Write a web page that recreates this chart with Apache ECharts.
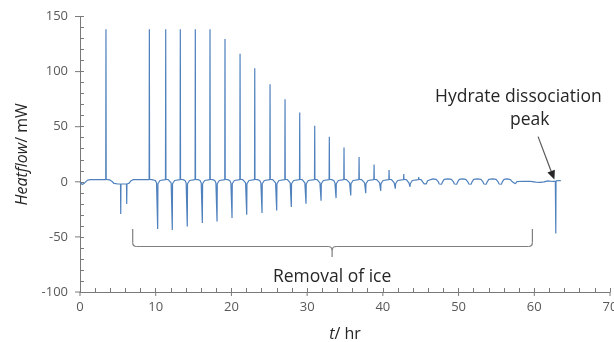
<!DOCTYPE html>
<html>
<head>
<meta charset="utf-8">
<script src="https://cdn.jsdelivr.net/npm/echarts@6/dist/echarts.min.js"></script>
<style>
  html, body { margin: 0; padding: 0; background: #fff; }
  #chart { width: 614px; height: 342px; }
</style>
</head>
<body>
<div id="chart"></div>
<script>
// heat flow trace, [t (hr), heat flow (mW)]
const startTrace = [
  [0, -0.5], [0.3, -2.5], [0.6, -1], [1.0, 1.5], [1.4, 1.9], [3.4, 1.9],
  [3.43, 138.5], [3.46, 2.2], [3.9, 1.8], [4.2, 0.5], [4.5, -1.5], [5.0, -2.0],
  [5.35, -2.0], [5.38, -29.3], [5.41, -2.0], [6.14, -2.0], [6.17, -20.2], [6.2, -2.0],
  [6.5, -1.2], [6.7, 0.8], [7.0, 1.9]
];

// freeze/melt cycles: big up spike, then a down spike
const iceCycles = [
  [9.13, 1.9], [9.16, 138.5], [9.19, 2.2], [9.5, 2.0], [9.96, 1.2], [10.11, -1.0], [10.23, -1.8], [10.26, -42.9], [10.29, -1.8], [10.41, -1.0], [10.56, 1.2], [10.76, 1.9],
  [11.29, 1.9], [11.32, 138.5], [11.35, 2.2], [11.65, 2.0], [11.89, 1.2], [12.04, -1.0], [12.16, -1.8], [12.19, -43.8], [12.22, -1.8], [12.34, -1.0], [12.49, 1.2], [12.69, 1.9],
  [13.22, 1.9], [13.25, 138.5], [13.28, 2.2], [13.6, 2.0], [13.87, 1.2], [14.02, -1.0], [14.14, -1.8], [14.17, -40.5], [14.2, -1.8], [14.32, -1.0], [14.47, 1.2], [14.67, 1.9],
  [15.2, 1.9], [15.23, 138.5], [15.26, 2.2], [15.58, 2.0], [15.86, 1.2], [16.01, -1.0], [16.13, -1.8], [16.16, -37.4], [16.19, -1.8], [16.31, -1.0], [16.46, 1.2], [16.66, 1.9],
  [17.14, 1.9], [17.17, 138.5], [17.2, 2.2], [17.52, 2.0], [17.8, 1.2], [17.95, -1.0], [18.07, -1.8], [18.1, -36], [18.13, -1.8], [18.25, -1.0], [18.4, 1.2], [18.6, 1.9],
  [19.12, 1.9], [19.15, 129.6], [19.18, 2.2], [19.5, 2.0], [19.78, 1.2], [19.93, -1.0], [20.05, -1.8], [20.08, -32.9], [20.11, -1.8], [20.23, -1.0], [20.38, 1.2], [20.58, 1.9],
  [21.11, 1.9], [21.14, 116.3], [21.17, 2.2], [21.49, 2.0], [21.72, 1.2], [21.87, -1.0], [21.99, -1.8], [22.02, -29.9], [22.05, -1.8], [22.17, -1.0], [22.32, 1.2], [22.52, 1.9],
  [23.05, 1.9], [23.08, 103], [23.11, 2.2], [23.43, 2.0], [23.74, 1.2], [23.89, -1.0], [24.01, -1.8], [24.04, -28.4], [24.07, -1.8], [24.19, -1.0], [24.34, 1.2], [24.54, 1.9],
  [25.07, 1.9], [25.1, 88.6], [25.13, 2.2], [25.45, 2.0], [25.68, 1.2], [25.83, -1.0], [25.95, -1.8], [25.98, -26], [26.01, -1.8], [26.13, -1.0], [26.28, 1.2], [26.48, 1.9],
  [27.05, 1.9], [27.08, 75], [27.11, 2.2], [27.4, 2.0], [27.61, 1.2], [27.76, -1.0], [27.88, -1.8], [27.91, -22.9], [27.94, -1.8], [28.06, -1.0], [28.21, 1.2], [28.41, 1.9],
  [28.99, 1.9], [29.02, 62.8], [29.05, 2.2], [29.34, 2.0], [29.55, 1.2], [29.7, -1.0], [29.82, -1.8], [29.85, -19.9], [29.88, -1.8], [30.0, -1.0], [30.15, 1.2], [30.35, 1.9],
  [30.97, 1.9], [31.0, 50.8], [31.03, 2.2], [31.32, 2.0], [31.54, 1.2], [31.69, -1.0], [31.81, -1.8], [31.84, -17.2], [31.87, -1.8], [31.99, -1.0], [32.14, 1.2], [32.34, 1.9],
  [32.9, 1.9], [32.93, 40.8], [32.96, 2.2], [33.25, 2.0], [33.52, 1.2], [33.67, -1.0], [33.79, -1.8], [33.82, -14.8], [33.85, -1.8], [33.97, -1.0], [34.12, 1.2], [34.32, 1.9],
  [34.84, 1.9], [34.87, 31.1], [34.9, 2.2], [35.2, 2.0], [35.46, 1.2], [35.61, -1.0], [35.73, -1.8], [35.76, -12.4], [35.79, -1.8], [35.91, -1.0], [36.06, 1.2], [36.26, 1.9],
  [36.83, 1.9], [36.86, 22.4], [36.89, 2.2], [37.2, 2.0], [37.44, 1.2], [37.59, -1.0], [37.71, -1.8], [37.74, -10.3], [37.77, -1.8], [37.89, -1.0], [38.04, 1.2], [38.24, 1.9],
  [38.81, 1.9], [38.84, 15.7], [38.87, 2.2], [39.18, 2.0], [39.42, 1.2], [39.57, -1.0], [39.69, -1.8], [39.72, -8.2], [39.75, -1.8], [39.87, -1.0], [40.02, 1.2], [40.22, 1.9],
  [40.79, 1.9], [40.82, 10.6], [40.85, 2.2], [41.15, 2.0], [41.35, 1.2], [41.5, -1.0], [41.62, -1.8], [41.65, -6.3], [41.68, -1.8], [41.8, -1.0], [41.95, 1.2], [42.15, 1.9],
  [42.73, 1.9], [42.76, 7.0], [42.79, 2.2], [43.1, 2.0], [43.29, 1.2], [43.44, -1.0], [43.56, -1.8], [43.59, -4.5], [43.62, -1.8], [43.74, -1.0], [43.89, 1.2], [44.09, 1.9],
  [44.71, 1.9], [44.74, 4.3], [44.77, 2.2], [45.05, 2.0], [45.3, 1.0], [45.45, -1.8], [45.6, -2.6], [45.75, -1.8], [45.9, 1.0], [46.1, 2.2]
];

// small wobble after the ice is gone, then the hydrate peak
const tailTrace = [
  [46.6, 2.7], [47.05, 2.2], [47.3, 0.2], [47.45, -2.0], [47.75, -2.2], [47.9, 0.2], [48.1, 2.2],
  [48.6, 2.7], [49.05, 2.2], [49.3, 0.2], [49.45, -2.0], [49.75, -2.2], [49.9, 0.2], [50.1, 2.2],
  [50.5, 2.7], [50.95, 2.2], [51.2, 0.2], [51.35, -2.0], [51.65, -2.2], [51.8, 0.2], [52.0, 2.2],
  [52.5, 2.7], [52.95, 2.2], [53.2, 0.2], [53.35, -2.0], [53.65, -2.2], [53.8, 0.2], [54.0, 2.2],
  [54.5, 2.7], [54.95, 2.2], [55.2, 0.2], [55.35, -2.0], [55.65, -2.2], [55.8, 0.2], [56.0, 2.2],
  [56.4, 2.6], [56.85, 2.0], [57.1, 0.0], [57.25, -1.8], [57.5, -1.8], [57.7, 0.2], [57.95, 0.9],
  [58.5, 0.5], [59.5, 0.3], [60.2, -0.3], [60.8, -0.5], [61.3, 0.0], [61.8, 0.9], [62.4, 0.3],
  [62.78, 0.5], [62.82, 1.0], [62.84, -47], [62.87, 0.8], [63.1, -0.2], [63.35, 1.2], [63.5, 0.8]
];

const heatflow = startTrace.concat(iceCycles, tailTrace);

// annotation anchors in data units [t, mW]
const brace = { left: 6.96, right: 59.75, center: 33.3, top: -42.9, mid: -58.7, bottom: -68.3 };
const braceLabelAt = [33.3, -86.4];
const peakTextAt = [57.9, 77];
const peakText2At = [59.4, 56];
const arrowFrom = [60.5, 41];
const arrowTo = [62.65, 2];

const axisGray = "#7a7a7a";
const labelGray = "#595959";
const font = "'Open Sans', 'DejaVu Sans', sans-serif";

const chart = echarts.init(document.getElementById("chart"));

const nameRich = {
  i: { fontStyle: "italic", fontSize: 16, fontFamily: font, color: "#262626" },
  n: { fontSize: 16, fontFamily: font, color: "#262626" },
};

chart.setOption({
  animation: false,
  backgroundColor: "#fff",
  grid: { left: 80, right: 4, top: 16.5, bottom: 50, outerBoundsMode: "none" },
  xAxis: {
    type: "value",
    min: 0,
    max: 70,
    interval: 10,
    name: "{i|t}{n|/ hr}",
    nameLocation: "middle",
    nameGap: 34,
    nameTextStyle: { rich: nameRich },
    axisLine: { show: true, onZero: false, lineStyle: { color: axisGray, width: 1 } },
    axisTick: { show: true, inside: true, length: 4, lineStyle: { color: axisGray, width: 1 } },
    minorTick: { show: true, splitNumber: 5, length: 4, lineStyle: { color: axisGray, width: 1 } },
    axisLabel: { color: labelGray, fontSize: 13, fontFamily: font, margin: 9 },
    splitLine: { show: false },
  },
  yAxis: {
    type: "value",
    min: -100,
    max: 150,
    interval: 50,
    name: "{i|Heatflow}{n|/ mW}",
    nameLocation: "middle",
    nameGap: 50,
    nameRotate: 90,
    nameTextStyle: { rich: nameRich },
    axisLine: { show: true, onZero: false, lineStyle: { color: axisGray, width: 1 } },
    axisTick: { show: true, inside: true, length: 4, lineStyle: { color: axisGray, width: 1 } },
    minorTick: { show: true, splitNumber: 5, length: 4, lineStyle: { color: axisGray, width: 1 } },
    axisLabel: { color: labelGray, fontSize: 13, fontFamily: font, margin: 12 },
    splitLine: { show: false },
  },
  series: [
    {
      name: "Heatflow",
      type: "line",
      data: heatflow,
      showSymbol: false,
      smooth: false,
      lineStyle: { color: "#4F81BD", width: 1.2 },
    },
  ],
});

// annotations: brace + label, and the arrow for the hydrate peak
const px = (p) => chart.convertToPixel({ gridIndex: 0 }, p);
const L = px([brace.left, brace.top]);
const M = px([brace.left, brace.mid]);
const R = px([brace.right, brace.top]);
const C = px([brace.center, brace.bottom]);
const xl = L[0], xr = R[0], xc = C[0];
const yTop = L[1], yMid = M[1], yBot = C[1];
const r = 4;
const braceStroke = { fill: null, stroke: "#7f7f7f", lineWidth: 1.2 };
const seg = (x1, y1, x2, y2) => ({ type: "line", shape: { x1, y1, x2, y2 }, style: braceStroke });
const curve = (x1, y1, cx, cy, x2, y2) => ({
  type: "bezierCurve",
  shape: { x1, y1, x2, y2, cpx1: cx, cpy1: cy },
  style: braceStroke,
});
const braceParts = [
  seg(xl, yTop, xl, yMid - r),
  curve(xl, yMid - r, xl, yMid, xl + r, yMid),
  seg(xl + r, yMid, xc - r, yMid),
  curve(xc - r, yMid, xc, yMid, xc, yMid + r),
  seg(xc, yMid + r, xc, yBot),
  curve(xc, yMid + r, xc, yMid, xc + r, yMid),
  seg(xc + r, yMid, xr - r, yMid),
  curve(xr - r, yMid, xr, yMid, xr, yMid - r),
  seg(xr, yMid - r, xr, yTop),
];

// small outward stubs so the major ticks cross the axis lines
const xMajor = [0, 10, 20, 30, 40, 50, 60, 70];
const yMajor = [-100, -50, 0, 50, 100, 150];
const tickStroke = { stroke: axisGray, lineWidth: 1 };
const xStubs = xMajor.map((t) => {
  const p = px([t, -100]);
  return { type: "line", shape: { x1: p[0], y1: p[1], x2: p[0], y2: p[1] + 4 }, style: tickStroke };
});
const yStubs = yMajor.map((v) => {
  const p = px([0, v]);
  return { type: "line", shape: { x1: p[0] - 5, y1: p[1], x2: p[0], y2: p[1] }, style: tickStroke };
});

const a0 = px(arrowFrom);
const a1 = px(arrowTo);
const ang = Math.atan2(a1[1] - a0[1], a1[0] - a0[0]);
const headLen = 9, headW = 4;
const bx = a1[0] - headLen * Math.cos(ang), by = a1[1] - headLen * Math.sin(ang);
const head = [
  [a1[0], a1[1]],
  [bx + headW * Math.sin(ang), by - headW * Math.cos(ang)],
  [bx - headW * Math.sin(ang), by + headW * Math.cos(ang)],
];

const t1 = px(braceLabelAt);
const t2 = px(peakTextAt);
const t3 = px(peakText2At);
const textStyle = (text) => ({
  text,
  font: `17.5px ${font}`,
  fill: "#262626",
  textAlign: "center",
  textVerticalAlign: "middle",
});

chart.setOption({
  graphic: braceParts.concat(xStubs, yStubs, [
    { type: "text", x: t1[0], y: t1[1], style: textStyle("Removal of ice") },
    { type: "text", x: t2[0], y: t2[1], style: textStyle("Hydrate dissociation") },
    { type: "text", x: t3[0], y: t3[1], style: textStyle("peak") },
    {
      type: "line",
      shape: { x1: a0[0], y1: a0[1], x2: bx, y2: by },
      style: { stroke: "#595959", lineWidth: 1.2 },
    },
    { type: "polygon", shape: { points: head }, style: { fill: "#262626" } },
  ]),
});
</script>
</body>
</html>
